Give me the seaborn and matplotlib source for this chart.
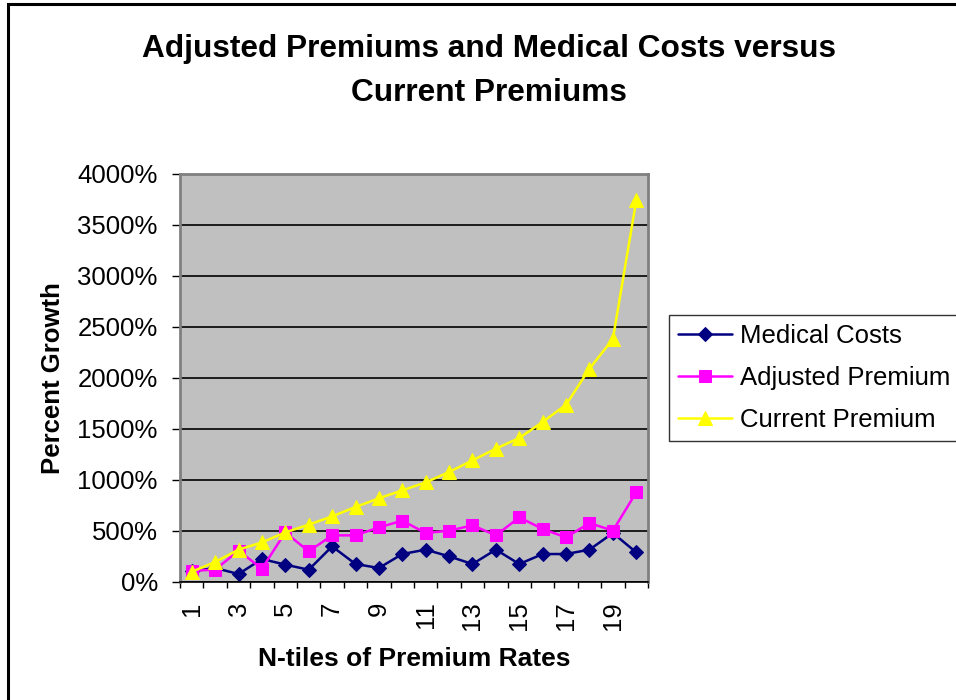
import numpy as np
import pandas as pd
import seaborn as sns
from matplotlib import pyplot as plt
from matplotlib.patches import Rectangle
from matplotlib.ticker import FixedLocator, FuncFormatter

# N-tile index and percent growth values
ntiles = list(range(1, 21))
medical_costs = [104, 137, 78, 225, 170, 120, 349, 176, 137, 274,
                 317, 251, 176, 317, 176, 274, 274, 317, 480, 290]
adjusted_premium = [111, 120, 307, 130, 486, 300, 457, 457, 535, 601,
                    480, 503, 555, 457, 634, 519, 437, 578, 503, 879]
current_premium = [100, 196, 317, 388, 486, 562, 643, 735, 820, 898,
                   976, 1078, 1192, 1307, 1412, 1569, 1738, 2091, 2382, 3741]
series_names = ["Medical Costs", "Adjusted Premium", "Current Premium"]

df = pd.DataFrame({
    "N-tile": ntiles * 3,
    "Growth": medical_costs + adjusted_premium + current_premium,
    "Series": sum([[n] * len(ntiles) for n in series_names], []),
})

sns.set_style("white")
plt.rcParams['font.family'] = ['Liberation Sans', 'DejaVu Sans']
plt.rcParams.update({"text.color": "black", "axes.labelcolor": "black",
                     "xtick.color": "black", "ytick.color": "black"})

fig = plt.figure(figsize=(9.56, 7), dpi=100)
ax = fig.add_axes([0.1883, 0.1686, 0.4895, 0.5829])
ax.set_facecolor("#C0C0C0")

palette = {"Medical Costs": "#000080", "Adjusted Premium": "#FF00FF",
           "Current Premium": "#FFFF00"}
markers = {"Medical Costs": "D", "Adjusted Premium": "s", "Current Premium": "^"}
sizes = {"Medical Costs": 7.5, "Adjusted Premium": 9, "Current Premium": 9.5}

for name in series_names:
    sub = df[df["Series"] == name]
    sns.lineplot(data=sub, x="N-tile", y="Growth", ax=ax, color=palette[name],
                 marker=markers[name], markersize=sizes[name],
                 markeredgecolor=palette[name], linewidth=1.8, label=name)

ax.set_xlim(0.5, 20.5)
ax.set_ylim(0, 4000)

# gridlines every 500%
ax.set_yticks(np.arange(0, 4001, 500))
ax.yaxis.set_major_formatter(FuncFormatter(lambda v, p: f"{int(v)}%"))
ax.grid(axis="y", color="black", linewidth=1.2)
ax.set_axisbelow(True)

# tick marks between categories, labels on odd categories
ax.xaxis.set_major_locator(FixedLocator(np.arange(0.5, 21, 1)))
ax.xaxis.set_major_formatter(FuncFormatter(lambda v, p: ""))
ax.xaxis.set_minor_locator(FixedLocator(ntiles[::2]))
ax.xaxis.set_minor_formatter(FuncFormatter(lambda v, p: f"{int(v)}"))
ax.tick_params(axis="x", which="major", direction="out", length=4.5, width=1,
               color="black", bottom=True)
ax.tick_params(axis="x", which="minor", length=0, labelsize=18.5, pad=14,
               labelrotation=90)
ax.tick_params(axis="y", direction="out", length=6, width=1, color="black",
               left=True, labelsize=18.5, pad=10)

for s in ["top", "right", "left"]:
    ax.spines[s].set_color("#808080")
    ax.spines[s].set_linewidth(2)
ax.spines["bottom"].set_color("black")
ax.spines["bottom"].set_linewidth(1.2)

ax.set_xlabel("N-tiles of Premium Rates", fontsize=19, fontweight="bold",
              labelpad=12)
ax.set_ylabel("Percent Growth", fontsize=18.5, fontweight="bold", labelpad=9)

fig.text(0.511, 0.899, "Adjusted Premiums and Medical Costs versus\nCurrent Premiums",
         ha="center", va="center", fontsize=22.8, fontweight="bold",
         linespacing=1.6)

leg = ax.legend(loc="upper left", bbox_to_anchor=(0.6998, 0.5500),
                bbox_transform=fig.transFigure, fontsize=18.5, frameon=True,
                fancybox=False, edgecolor="black", handlelength=2.1,
                borderpad=0.35, labelspacing=0.7, handletextpad=0.3,
                borderaxespad=0)
leg.get_frame().set_linewidth(1)

# outer chart border
fig.patches.append(Rectangle((8 / 956, -0.05), 1.0, 1.0 - 4 / 700 + 0.05,
                             transform=fig.transFigure, fill=False,
                             edgecolor="black", linewidth=2.2))

fig.savefig("out.png", dpi=100)
